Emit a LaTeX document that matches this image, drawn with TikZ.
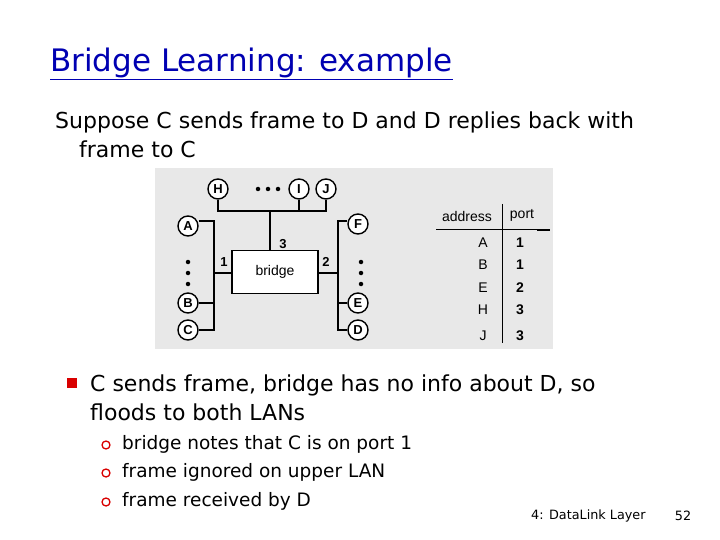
\documentclass[tikz,border=0pt]{standalone}
\usepackage{fontspec}
\setmainfont{DejaVu Sans}
\newfontfamily\lab{Liberation Sans}
\begin{document}
\begin{tikzpicture}[x=1pt,y=-1pt,
  host/.style={circle,draw,line width=1.4pt,fill=white,inner sep=0pt,minimum size=20pt,font=\lab\bfseries\fontsize{13}{13}\selectfont},
  wire/.style={line width=1.5pt},
  dotmark/.style={circle,fill=black,inner sep=0pt,minimum size=4.5pt},
  body/.style={anchor=west,font=\fontsize{22}{26}\selectfont,inner sep=0pt,align=left},
  sub/.style={anchor=west,font=\fontsize{18.5}{21}\selectfont,inner sep=0pt},
  tab/.style={font=\lab\fontsize{14}{14}\selectfont,inner sep=0pt}]
\useasboundingbox (0,0) rectangle (720,540);
\fill[white] (0,0) rectangle (720,540);
\node[anchor=west,inner sep=0pt,text=blue!70!black,font=\fontsize{31}{34}\selectfont] (title) at (50,64) {\underline{Bridge Learning: example}};
\node[anchor=west,inner sep=0pt,font=\fontsize{22}{26}\selectfont] (intro) at (55,122) {Suppose C sends frame to D and D replies back with};
\node[anchor=west,inner sep=0pt,font=\fontsize{22}{26}\selectfont] (intro2) at (79,149) {frame to C};
\fill[gray!18] (155,168) rectangle (553,349);
% upper LAN
\node[host] (H) at (218,189) {H};
\node[host] (I) at (299,189) {I};
\node[host] (J) at (326,189) {J};
\foreach \x/\n in {258/u1,268/u2,278/u3}{\node[dotmark] (\n) at (\x,189) {};}
\coordinate (hb) at (218,211); \coordinate (jb) at (326,211);
\coordinate (ib) at (299,211); \coordinate (cb) at (270,211);
\draw[wire] (H) -- (hb) -- (jb) -- (J); \draw[wire] (I) -- (ib);
\node[draw,line width=1.5pt,fill=white,minimum width=86pt,minimum height=43pt,font=\lab\fontsize{14}{14}\selectfont] (br) at (275,272) {bridge};
\draw[wire] (cb) -- (cb |- br.north);
\node[tab,font=\lab\bfseries\fontsize{13}{13}\selectfont] (p3) at (283,244) {3};
\node[tab,font=\lab\bfseries\fontsize{13}{13}\selectfont] (p1) at (224,262) {1};
\node[tab,font=\lab\bfseries\fontsize{13}{13}\selectfont] (p2) at (326,262) {2};
% left LAN
\node[host] (A) at (188,226) {A};
\node[host] (B) at (188,303) {B};
\node[host] (C) at (188,330) {C};
\foreach \y/\n in {262/l1,273/l2,284/l3}{\node[dotmark] (\n) at (188,\y) {};}
\coordinate (la) at (214,221); \coordinate (lc) at (214,330);
\draw[wire] (A.east |- la) -- (la) -- (lc) -- (C);
\draw[wire] (B) -- (214,303);
\draw[wire] (214,273) -- (br.west |- 214,273);
% right LAN
\node[host] (F) at (358,224) {F};
\node[host] (E) at (358,303) {E};
\node[host] (D) at (358,330) {D};
\foreach \y/\n in {262/r1,273/r2,284/r3}{\node[dotmark] (\n) at (361,\y) {};}
\coordinate (rf) at (338,221); \coordinate (rd) at (338,330);
\draw[wire] (F.west |- rf) -- (rf) -- (rd) -- (D);
\draw[wire] (E) -- (338,303);
\draw[wire] (br.east |- 338,273) -- (338,273);
% table
\node[tab] (ad) at (467,216) {address};
\node[tab] (pt) at (522,215) {port};
\draw[line width=1pt] (436,230) -- (550,230);
\draw[line width=2pt] (537,230) -- (550,230);
\draw[line width=1pt] (502,204) -- (502,343);
\foreach \y/\a/\p in {243/A/1,265/B/1,288/E/2,310/H/3,336/J/3}{
  \node[tab] at (483,\y) {\a}; \node[tab,font=\lab\bfseries\fontsize{14}{14}\selectfont] at (520,\y) {\p};}
% bullets
\fill[red!85!black] (67,378) rectangle (77,388);
\node[body] (b1) at (90,385) {C sends frame, bridge has no info about D, so};
\node[body] (b1b) at (90,412) {floods to both LANs};
\foreach \y/\t/\n in {444/bridge notes that C is on port 1/s1,472/frame ignored on upper LAN/s2,501/frame received by D/s3}{
  \draw[red!85!black,line width=1.3pt] (106,\y+1) circle (4pt);
  \node[sub] (\n) at (122,\y) {\t};}
\node[anchor=west,inner sep=0pt,font=\fontsize{12.8}{15}\selectfont] (ft) at (531,516) {4: DataLink Layer};
\node[inner sep=0pt,font=\fontsize{12.8}{15}\selectfont] (pg) at (683,516) {52};
\end{tikzpicture}
\end{document}
